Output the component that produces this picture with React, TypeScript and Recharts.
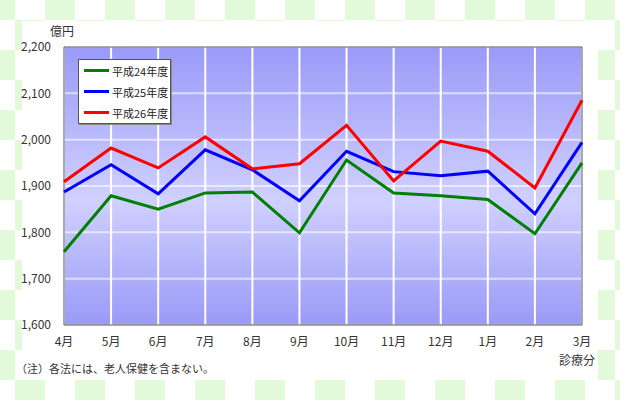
import React from 'react';
import { LineChart, Line, XAxis, YAxis, CartesianGrid, Legend, ReferenceArea } from 'recharts';

const months = ['4月', '5月', '6月', '7月', '8月', '9月', '10月', '11月', '12月', '1月', '2月', '3月'];
const h24 = [1758, 1879, 1850, 1885, 1887, 1799, 1956, 1885, 1879, 1871, 1797, 1950];
const h25 = [1887, 1946, 1883, 1978, 1935, 1868, 1975, 1931, 1922, 1932, 1840, 1994];
const h26 = [1909, 1982, 1939, 2006, 1937, 1948, 2031, 1911, 1997, 1975, 1896, 2085];
const yTicks = [1600, 1700, 1800, 1900, 2000, 2100, 2200];

const seriesNames = ['平成24年度', '平成25年度', '平成26年度'];
const seriesColors = ['#008000', '#0000ff', '#ff0000'];

const data = months.map((m, i) => ({ month: m, h24: h24[i], h25: h25[i], h26: h26[i] }));

const FONT = '"Noto Sans CJK JP", "DejaVu Sans", sans-serif';

const LegendBox = (props: any) => {
  const items = props.payload || [];
  return (
    <div style={{ background: '#fff', border: '1px solid #555', padding: '0 4px 0 5px', width: 82,
      boxShadow: '1px 1px 0 #888', whiteSpace: 'nowrap' }}>
      {items.map((it: any) => (
        <div key={it.value} style={{ display: 'flex', alignItems: 'center', height: 21 }}>
          <span style={{ display: 'inline-block', width: 25, height: 3, background: it.color, marginRight: 3, flexShrink: 0 }} />
          <span style={{ fontSize: 11, color: '#222', fontFamily: FONT, whiteSpace: 'nowrap' }}>{it.value}</span>
        </div>
      ))}
    </div>
  );
};

export default function App() {
  return (
    <div style={{ position: 'absolute', left: 0, top: 0, width: 620, height: 400, overflow: 'hidden',
      background: 'repeating-conic-gradient(#ffffff 0 25%, #e2f9da 0 50%) -15px -10px / 60px 60px' }}>
      <div style={{ position: 'absolute', left: 22, top: 21, width: 576, height: 359, background: '#fff' }} />
      <div style={{ position: 'absolute', left: 50, top: 22, fontSize: 12, fontFamily: FONT, color: '#333' }}>億円</div>
      <div style={{ position: 'absolute', right: 25, top: 351, fontSize: 12, fontFamily: FONT, color: '#333' }}>診療分</div>
      <div style={{ position: 'absolute', left: 16, top: 360, fontSize: 11, fontFamily: FONT, color: '#333' }}>（注）各法には、老人保健を含まない。</div>
      <div style={{ position: 'absolute', left: 0, top: 0 }}>
        <LineChart width={620} height={400} data={data} margin={{ top: 47, right: 38, left: 0, bottom: 45 }}>
          <defs>
            <linearGradient id="plotGrad" x1="0" y1="0" x2="0" y2="1">
              <stop offset="0%" stopColor="#9a9af8" />
              <stop offset="55%" stopColor="#d0d0ff" />
              <stop offset="100%" stopColor="#9a9af8" />
            </linearGradient>
          </defs>
          <CartesianGrid fill="url(#plotGrad)" horizontal={false} stroke="#ffffff" strokeWidth={2} />
          <CartesianGrid vertical={false} stroke="#ffffff" strokeOpacity={0.6} strokeWidth={2} />
          <XAxis dataKey="month" tickLine={false} axisLine={false} tickMargin={6}
            tick={{ fontSize: 12, fill: '#333', fontFamily: FONT }} interval={0} />
          <YAxis width={64} domain={[1600, 2200]} ticks={yTicks} tickLine={false} axisLine={false} tickMargin={7}
            tickFormatter={(v: number) => v.toLocaleString('en-US')}
            tick={{ fontSize: 12, fill: '#333', fontFamily: FONT }} />
          <ReferenceArea x1={months[0]} x2={months[months.length - 1]} y1={1600} y2={2200}
            fill="none" fillOpacity={0} stroke="#555" strokeWidth={1} />
          <Legend layout="vertical" align="center" verticalAlign="middle" content={<LegendBox />}
            wrapperStyle={{ position: 'absolute', left: 78, top: 59, width: 94 }} />
          <Line type="linear" dataKey="h24" name={seriesNames[0]} stroke={seriesColors[0]} strokeWidth={3} dot={false} isAnimationActive={false} />
          <Line type="linear" dataKey="h25" name={seriesNames[1]} stroke={seriesColors[1]} strokeWidth={3} dot={false} isAnimationActive={false} />
          <Line type="linear" dataKey="h26" name={seriesNames[2]} stroke={seriesColors[2]} strokeWidth={3} dot={false} isAnimationActive={false} />
        </LineChart>
      </div>
    </div>
  );
}
